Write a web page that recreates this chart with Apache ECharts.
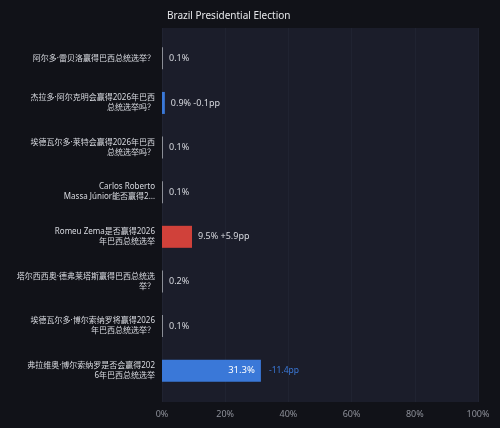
<!DOCTYPE html>
<html>
<head>
<meta charset="UTF-8">
<title>Brazil Presidential Election</title>
<script src="https://cdn.jsdelivr.net/npm/echarts@6/dist/echarts.min.js"></script>
<style>
  html, body { margin: 0; padding: 0; background: #111218; }
  #chart { width: 500px; height: 428px; }
</style>
</head>
<body>
<div id="chart"></div>
<script>
var chartTitle = 'Brazil Presidential Election';
var categories = [
  '阿尔多·雷贝洛赢得巴西总统选举？',
  '杰拉多·阿尔克明会赢得2026年巴西\n总统选举吗？',
  '埃德瓦尔多·莱特会赢得2026年巴西\n总统选举吗？',
  'Carlos Roberto\nMassa Júnior能否赢得2…',
  'Romeu Zema是否赢得2026\n年巴西总统选举',
  '塔尔西西奥·德弗莱塔斯赢得巴西总统选\n举？',
  '埃德瓦尔多·博尔索纳罗将赢得2026\n年巴西总统选举？',
  '弗拉维奥·博尔索纳罗是否会赢得202\n6年巴西总统选举'
];
var values = [0.1, 0.9, 0.1, 0.1, 9.5, 0.2, 0.1, 31.3];
var changes = [0, -0.1, 0, 0, 5.9, 0, 0, -11.4];
var xTicks = [0, 20, 40, 60, 80, 100];

var UP = '#d0413a', DOWN = '#3a78d8', FLAT = '#8a8d96';
var FONT = 'Noto Sans, Noto Sans CJK SC, sans-serif';

function changeText(c) {
  if (!c) return '';
  return (c > 0 ? '+' : '') + c.toFixed(1) + 'pp';
}

var barData = values.map(function (v, i) {
  var c = changes[i];
  var col = c > 0 ? UP : (c < 0 ? DOWN : FLAT);
  var big = v > 20;
  var txt = v.toFixed(1) + '%' + (!big && c ? ' ' + changeText(c) : '');
  return {
    value: v,
    itemStyle: { color: col },
    label: big
      ? { show: true, position: 'insideRight', distance: 6, formatter: txt, color: '#ffffff', fontSize: 9.5, fontFamily: FONT }
      : { show: true, position: 'right', formatter: txt, color: '#d6d8de', fontSize: 9, distance: 6, fontFamily: FONT }
  };
});

// zero-width stacked marks that carry the change label for bars labelled inside
var tailData = values.map(function (v, i) {
  var show = v > 20 && changes[i] !== 0;
  return {
    value: 0,
    label: { show: show, position: 'right', distance: 8, formatter: changeText(changes[i]), color: DOWN, fontSize: 8.5, fontFamily: FONT }
  };
});

var myChart = echarts.init(document.getElementById('chart'));
var option = {
  backgroundColor: '#111218',
  animation: false,
  title: {
    text: chartTitle,
    left: 162, top: 6,
    textStyle: { color: '#e6e7ea', fontSize: 10, fontWeight: 'normal', fontFamily: FONT }
  },
  textStyle: { fontFamily: FONT },
  grid: [
    { left: 162, right: 22, top: 28, bottom: 26, show: true, backgroundColor: '#1b1d2a', borderWidth: 0, outerBoundsMode: 'none', containLabel: false },
    { left: 162, right: 22, top: 36, bottom: 35, outerBoundsMode: 'none', containLabel: false }
  ],
  xAxis: [
    {
      gridIndex: 0, type: 'value', min: 0, max: 100, interval: 20,
      axisLine: { show: false }, axisTick: { show: false },
      splitLine: { show: true, lineStyle: { color: '#202331', width: 1 } },
      axisLabel: { color: '#8d9099', fontSize: 9, margin: 8, fontFamily: FONT, formatter: function (v) { return xTicks.indexOf(v) >= 0 ? v + '%' : ''; } }
    },
    {
      gridIndex: 1, type: 'value', min: 0, max: 100, show: false
    }
  ],
  yAxis: [
    { gridIndex: 0, type: 'value', show: false },
    {
      gridIndex: 1, type: 'category', data: categories, inverse: true,
      axisLine: { show: false }, axisTick: { show: false }, splitLine: { show: false },
      axisLabel: { color: '#d8dae0', fontSize: 8, lineHeight: 10, margin: 7, align: 'right', fontFamily: FONT }
    }
  ],
  series: [
    {
      type: 'bar', xAxisIndex: 1, yAxisIndex: 1, stack: 'p',
      barWidth: 22, barMinHeight: 1,
      data: barData
    },
    {
      type: 'bar', xAxisIndex: 1, yAxisIndex: 1, stack: 'p',
      barWidth: 22, itemStyle: { color: 'transparent' },
      data: tailData
    }
  ]
};
myChart.setOption(option);
</script>
</body>
</html>
